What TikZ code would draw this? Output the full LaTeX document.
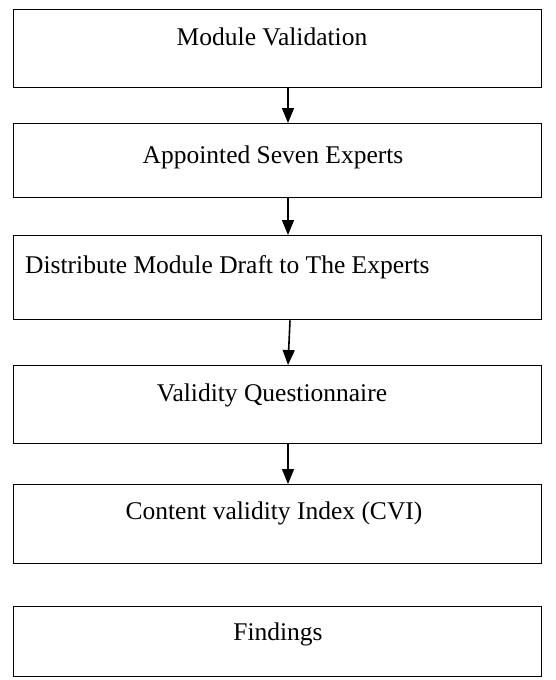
\documentclass[tikz,border=0pt]{standalone}
\usepackage{fontspec}
\setmainfont{Liberation Serif}
\usetikzlibrary{arrows.meta}
\begin{document}
\begin{tikzpicture}[x=1pt,y=-1pt,
  box/.style={draw=black, line width=1.4pt, rectangle, inner sep=0pt, minimum width=528pt, anchor=north west},
  lbl/.style={inner sep=0pt, font=\fontsize{25.5}{30}\selectfont, anchor=base},
  arr/.style={line width=1.6pt, -{Triangle[width=12pt,length=15pt]}}]
\useasboundingbox (0,0) rectangle (555,680);
\node[box, minimum height=78pt] (b1) at (13,9) {};
\node[box, minimum height=74pt] (b2) at (13,123) {};
\node[box, minimum height=84pt] (b3) at (13,235) {};
\node[box, minimum height=78pt] (b4) at (13,365) {};
\node[box, minimum height=79pt] (b5) at (13,484) {};
\node[box, minimum height=70pt] (b6) at (13,606) {};
\node[lbl] (t1) at (272,45) {Module Validation};
\node[lbl] (t2) at (273,163) {Appointed Seven Experts};
\node[lbl, anchor=base west] (t3) at (25,273) {Distribute Module Draft to The Experts};
\node[lbl] (t4) at (272,401) {Validity Questionnaire};
\node[lbl] (t5) at (274,519) {Content validity Index (CVI)};
\node[lbl] (t6) at (278,640) {Findings};
\coordinate (a1) at (288,0);
\coordinate (a2) at (288,0);
\coordinate (a3t) at (290,0);
\coordinate (a3b) at (288,0);
\coordinate (a4) at (288,0);
\draw[arr] (b1.south -| a1) -- (b2.north -| a1);
\draw[arr] (b2.south -| a2) -- (b3.north -| a2);
\draw[arr] (b3.south -| a3t) -- (b4.north -| a3b);
\draw[arr] (b4.south -| a4) -- (b5.north -| a4);
\end{tikzpicture}
\end{document}
